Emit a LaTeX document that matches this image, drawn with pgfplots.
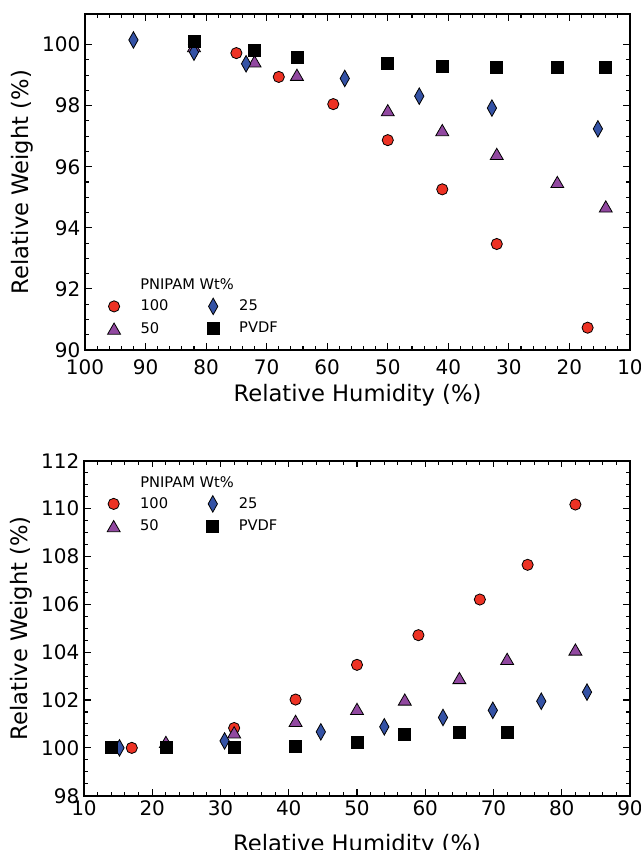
\documentclass[border=0pt]{standalone}
\usepackage{fontspec}
\setmainfont{DejaVu Sans}
\usepackage{pgfplots}
\pgfplotsset{compat=1.18}
\definecolor{cred}{RGB}{237,50,36}
\definecolor{cpur}{RGB}{145,72,160}
\definecolor{cblu}{RGB}{52,82,165}
\pgfplotsset{
 myaxis/.style={
  scale only axis,
  axis line style={line width=1.2pt},
  tick align=inside,
  major tick length=5pt, minor tick length=3pt,
  every tick/.style={black, line width=0.8pt},
  tick label style={font=\fontsize{15}{18}\selectfont},
  label style={font=\fontsize{17}{20}\selectfont},
  /pgf/number format/assume math mode=true,
  legend style={draw=none, fill=none, inner sep=0pt, row sep=3pt,
    font=\fontsize{11}{13}\selectfont,
    /tikz/every odd column/.append style={column sep=13pt},
    /tikz/every even column/.append style={column sep=27pt}},
  legend columns=2,
  legend cell align=left,
 },
 p100/.style={only marks, mark=*, mark size=4.2pt, mark options={fill=cred, draw=black, line width=0.6pt}},
 p50/.style={only marks, mark=triangle*, mark size=5.6pt, mark options={fill=cpur, draw=black, line width=0.6pt, yshift=-1.4pt}},
 p25/.style={only marks, mark=diamond*, mark size=6.2pt, mark options={fill=cblu, draw=black, line width=0.6pt, xscale=0.75}},
 pPV/.style={only marks, mark=square*, mark size=4.5pt, mark options={fill=black, draw=black, line width=0.6pt}},
}
\begin{document}
\begin{tikzpicture}
\path[use as bounding box] (0,0) rectangle (480pt,637.5pt);
\begin{axis}[myaxis, at={(63.75pt,375pt)}, anchor=south west,
  width=408.75pt, height=252pt, x dir=reverse,
  xmin=10, xmax=100, ymin=90, ymax=101,
  xtick={10,20,...,100}, ytick={90,92,...,100},
  minor x tick num=4, minor y tick num=3,
  xticklabel style={yshift=-4pt},
  xlabel={Relative Humidity (\%)}, ylabel={Relative Weight (\%)},
  legend style={at={(0.041,0.0967)}, anchor=west}]
\addplot[p100, forget plot] coordinates {(82,100.0) (75,99.72) (68,98.94) (59,98.05) (50,96.87) (41,95.26) (32,93.47) (17,90.73)};
\addplot[p50, forget plot] coordinates {(82,99.95) (72,99.45) (65,99.01) (50,97.85) (41,97.2) (32,96.42) (22,95.5) (14,94.7)};
\addplot[p25, forget plot] coordinates {(92,100.15) (82,99.75) (73.4,99.37) (57.1,98.89) (44.8,98.31) (32.8,97.92) (15.3,97.24)};
\addplot[pPV, forget plot] coordinates {(82,100.10) (72,99.82) (65,99.58) (50,99.37) (41,99.28) (32,99.25) (22,99.25) (14,99.25)};
\addlegendimage{p100}\addlegendentry{100}
\addlegendimage{p25}\addlegendentry{25}
\addlegendimage{p50}\addlegendentry{50}
\addlegendimage{pPV}\addlegendentry{PVDF}
\node[anchor=base west, inner sep=0pt, font=\fontsize{11}{13}\selectfont] at (rel axis cs:0.1009,0.179) {PNIPAM Wt\%};
\end{axis}
\begin{axis}[myaxis, at={(63pt,40.7pt)}, anchor=south west,
  width=409.5pt, height=251.25pt,
  xmin=10, xmax=90, ymin=98, ymax=112,
  xtick={10,20,...,90}, ytick={98,100,...,112},
  minor x tick num=4, minor y tick num=3,
  xlabel style={yshift=-7.5pt},
  xlabel={Relative Humidity (\%)}, ylabel={Relative Weight (\%)},
  legend style={at={(0.042,0.838)}, anchor=west}]
\addplot[p100, forget plot] coordinates {(17,100.0) (32,100.83) (41,102.02) (50,103.47) (59,104.71) (68,106.2) (75,107.65) (82,110.17)};
\addplot[p50, forget plot] coordinates {(22,100.25) (32,100.65) (41,101.13) (50,101.63) (57,102.02) (65,102.92) (72,103.72) (82,104.11)};
\addplot[p25, forget plot] coordinates {(15.2,100.0) (30.6,100.29) (44.7,100.67) (54,100.88) (62.6,101.27) (69.9,101.57) (77,101.95) (83.7,102.33)};
\addplot[pPV, forget plot] coordinates {(14,100.0) (22,100.0) (32,100.03) (41,100.08) (50,100.21) (57,100.56) (65,100.63) (72,100.64)};
\addlegendimage{p100}\addlegendentry{100}
\addlegendimage{p25}\addlegendentry{25}
\addlegendimage{p50}\addlegendentry{50}
\addlegendimage{pPV}\addlegendentry{PVDF}
\node[anchor=base west, inner sep=0pt, font=\fontsize{11}{13}\selectfont] at (rel axis cs:0.1026,0.9215) {PNIPAM Wt\%};
\end{axis}
\end{tikzpicture}
\end{document}
